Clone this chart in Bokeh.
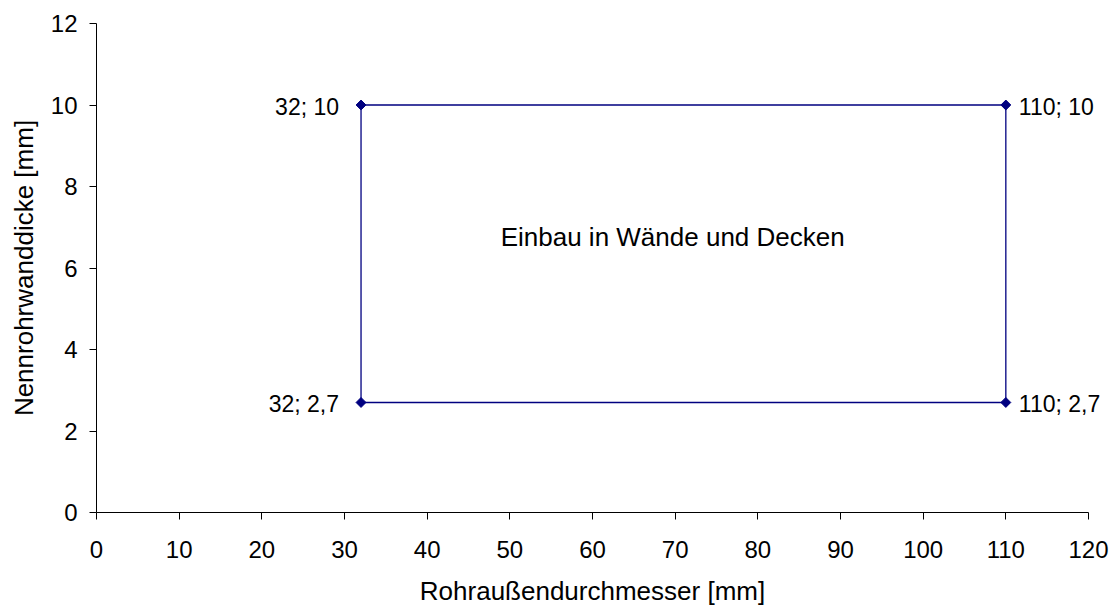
import math
from bokeh.plotting import figure
from bokeh.models import Range1d, FixedTicker, Label
from bokeh.embed import file_html
from bokeh.resources import INLINE

# data
path_x = [32, 32, 110, 110, 32]
path_y = [2.7, 10, 10, 2.7, 2.7]
pt_x = [32, 32, 110, 110]
pt_y = [2.7, 10, 10, 2.7]
pt_labels = ["32; 2,7", "32; 10", "110; 10", "110; 2,7"]
pt_side = ["left", "left", "right", "right"]
x_ticks = list(range(0, 121, 10))
y_ticks = list(range(0, 13, 2))
x_axis_max = 120
y_axis_max = 12
x_title = "Rohraußendurchmesser [mm]"
y_title = "Nennrohrwanddicke [mm]"
area_text = "Einbau in Wände und Decken"
area_pos = (69.7, 6.76)

FONT = "Liberation Sans"
TICK_FS = "24px"
LABEL_FS = "23px"
TITLE_FS = "26px"
NAVY = "#000080"

W, H = 1109, 607
X0_PX, Y0_PX = 96, 512          # where the axes cross (0, 0) on the page
AXIS_PX_X, AXIS_PX_Y = 992, 489  # pixel lengths of the 0..120 and 0..12 axes
sx = AXIS_PX_X / x_axis_max
sy = AXIS_PX_Y / y_axis_max

# the plot frame covers the whole figure, so no label is clipped
p = figure(width=W, height=H, output_backend="svg", toolbar_location=None,
           x_range=Range1d(-X0_PX / sx, (W - X0_PX) / sx),
           y_range=Range1d(-(H - Y0_PX) / sy, Y0_PX / sy),
           min_border_left=0, min_border_right=0, min_border_top=0, min_border_bottom=0)
p.outline_line_color = None
p.grid.visible = False
p.background_fill_color = "white"
p.border_fill_color = "white"

for ax in (p.xaxis[0], p.yaxis[0]):
    ax.fixed_location = 0
    ax.axis_line_color = "black"
    ax.axis_line_width = 1
    ax.major_tick_line_color = "black"
    ax.major_tick_in = 0
    ax.major_tick_out = 7
    ax.minor_tick_line_color = None
    ax.major_label_text_font = FONT
    ax.major_label_text_font_size = TICK_FS
    ax.major_label_text_color = "black"

xa, ya = p.xaxis[0], p.yaxis[0]
xa.bounds = (0, x_axis_max)
ya.bounds = (0, y_axis_max)
xa.ticker = FixedTicker(ticks=x_ticks)
ya.ticker = FixedTicker(ticks=y_ticks)
xa.major_label_standoff = 21
ya.major_label_standoff = 12

# axis titles
p.add_layout(Label(x=x_axis_max / 2, y=0, y_offset=-78, text=x_title, text_align="center",
                   text_baseline="middle", text_font=FONT, text_font_size=TITLE_FS,
                   text_color="black"))
p.add_layout(Label(x=0, y=y_axis_max / 2, x_offset=-73, text=y_title, angle=math.pi / 2,
                   text_align="center", text_baseline="middle", text_font=FONT,
                   text_font_size=TITLE_FS, text_color="black"))

p.line(path_x, path_y, line_color=NAVY, line_width=1.3)
p.scatter(pt_x, pt_y, marker="square", angle=math.pi / 4, size=7, fill_color=NAVY, line_color=NAVY)

for x, y, t, s in zip(pt_x, pt_y, pt_labels, pt_side):
    if s == "left":
        p.add_layout(Label(x=x, y=y, text=t, x_offset=-22, y_offset=-2, text_align="right",
                           text_baseline="middle", text_font=FONT, text_font_size=LABEL_FS,
                           text_color="black"))
    else:
        p.add_layout(Label(x=x, y=y, text=t, x_offset=13, y_offset=-2, text_align="left",
                           text_baseline="middle", text_font=FONT, text_font_size=LABEL_FS,
                           text_color="black"))

p.add_layout(Label(x=area_pos[0], y=area_pos[1], text=area_text, text_align="center",
                   text_baseline="middle", text_font=FONT, text_font_size=TITLE_FS,
                   text_color="black"))

open("out.html", "w").write(file_html(p, INLINE))
